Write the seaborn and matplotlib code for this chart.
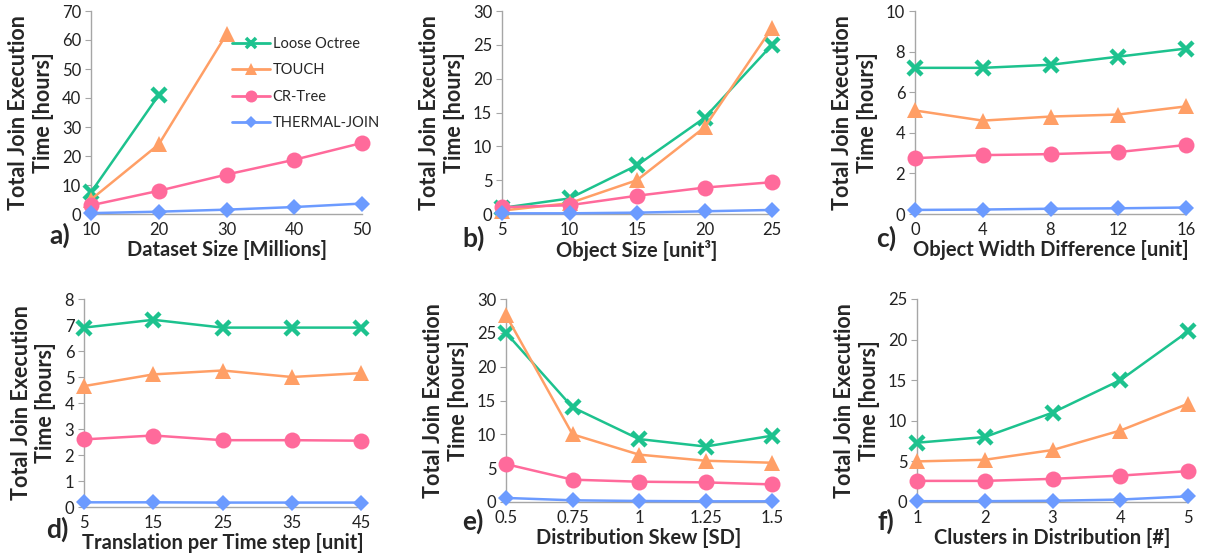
import numpy as np
import matplotlib
matplotlib.use("Agg")
import matplotlib.pyplot as plt
import seaborn as sns
from matplotlib.lines import Line2D

# ---- data ----
series_names = ["Loose Octree", "TOUCH", "CR-Tree", "THERMAL-JOIN"]

# a) Dataset Size [Millions]
a_x = [10, 20, 30, 40, 50]
a_loose = [7.5, 41, np.nan, np.nan, np.nan]
a_touch = [5, 24, 62, np.nan, np.nan]
a_crtree = [3, 8, 13.6, 18.7, 24.5]
a_thermal = [0.3, 0.8, 1.5, 2.4, 3.6]

# b) Object Size [unit^3]
b_x = [5, 10, 15, 20, 25]
b_loose = [0.9, 2.3, 7.2, 14.2, 25]
b_touch = [0.5, 1.6, 5.0, 12.8, 27.5]
b_crtree = [1.0, 1.3, 2.7, 3.9, 4.7]
b_thermal = [0.1, 0.1, 0.2, 0.4, 0.6]

# c) Object Width Difference [unit]
c_x = [0, 4, 8, 12, 16]
c_loose = [7.2, 7.2, 7.35, 7.75, 8.15]
c_touch = [5.1, 4.6, 4.8, 4.9, 5.3]
c_crtree = [2.75, 2.9, 2.95, 3.05, 3.4]
c_thermal = [0.2, 0.22, 0.26, 0.28, 0.32]

# d) Translation per Time step [unit]
d_x = [5, 15, 25, 35, 45]
d_loose = [6.9, 7.2, 6.9, 6.9, 6.9]
d_touch = [4.65, 5.1, 5.25, 5.0, 5.15]
d_crtree = [2.6, 2.75, 2.57, 2.57, 2.55]
d_thermal = [0.18, 0.18, 0.17, 0.17, 0.17]

# e) Distribution Skew [SD]
e_x = [0.5, 0.75, 1.0, 1.25, 1.5]
e_labels = ["0.5", "0.75", "1", "1.25", "1.5"]
e_loose = [25, 14, 9.3, 8.2, 9.8]
e_touch = [27.6, 10, 7.0, 6.1, 5.8]
e_crtree = [5.6, 3.3, 3.0, 2.9, 2.6]
e_thermal = [0.6, 0.25, 0.15, 0.1, 0.1]

# f) Clusters in Distribution [#]
f_x = [1, 2, 3, 4, 5]
f_loose = [7.3, 8.0, 11.0, 15.0, 21.0]
f_touch = [5.0, 5.2, 6.4, 8.8, 12.1]
f_crtree = [2.6, 2.6, 2.85, 3.25, 3.8]
f_thermal = [0.1, 0.1, 0.15, 0.3, 0.7]

# ---- styling ----
sns.set_theme(style="white")
plt.rcParams["font.family"] = ["Lato", "DejaVu Sans"]

colors = ["#1DC28E", "#FF9F66", "#FF6A9B", "#6C9BFF"]
markers = ["x", "^", "o", "D"]
msizes = [10, 11.5, 11.5, 8.5]
mews = [3.2, 0, 0, 0]
AXIS_GREY = "#A6A6A6"
W, H = 1208, 555

panels = [
    dict(x=a_x, ys=[a_loose, a_touch, a_crtree, a_thermal], ylim=70, ystep=10,
         xlabel="Dataset Size [Millions]", letter="a)", box=(91, 11, 362, 214),
         lpos=(49, 235)),
    dict(x=b_x, ys=[b_loose, b_touch, b_crtree, b_thermal], ylim=30, ystep=5,
         xlabel="Object Size [unit\u00b3]", letter="b)", box=(502, 11, 772, 214),
         lpos=(462, 238)),
    dict(x=c_x, ys=[c_loose, c_touch, c_crtree, c_thermal], ylim=10, ystep=2,
         xlabel="Object Width Difference [unit]", letter="c)", box=(915, 11, 1186, 214),
         lpos=(876, 238)),
    dict(x=d_x, ys=[d_loose, d_touch, d_crtree, d_thermal], ylim=8, ystep=1,
         xlabel="Translation per Time step [unit]", letter="d)", box=(84, 299, 361, 507),
         lpos=(46, 529)),
    dict(x=e_x, ys=[e_loose, e_touch, e_crtree, e_thermal], ylim=30, ystep=5,
         xlabel="Distribution Skew [SD]", letter="e)", box=(506, 299, 772, 502),
         lpos=(462, 521), xticklabels=e_labels),
    dict(x=f_x, ys=[f_loose, f_touch, f_crtree, f_thermal], ylim=25, ystep=5,
         xlabel="Clusters in Distribution [#]", letter="f)", box=(917, 299, 1188, 502),
         lpos=(878, 521)),
]

fig = plt.figure(figsize=(W / 100, H / 100), dpi=100)

for i, p in enumerate(panels):
    x0, y0, x1, y1 = p["box"]
    ax = fig.add_axes([x0 / W, 1 - y1 / H, (x1 - x0) / W, (y1 - y0) / H])
    for name, y, c, m, ms, mw in zip(series_names, p["ys"], colors, markers, msizes, mews):
        sns.lineplot(x=p["x"], y=y, ax=ax, color=c, marker=m, markersize=ms,
                     markeredgecolor=c, markerfacecolor=c, markeredgewidth=mw,
                     linewidth=1.8, clip_on=False, legend=False, zorder=3)

    ax.set_xlim(p["x"][0], p["x"][-1])
    ax.set_ylim(0, p["ylim"])
    ax.set_yticks(np.arange(0, p["ylim"] + 0.01, p["ystep"]))
    ax.set_xticks(p["x"])
    if "xticklabels" in p:
        ax.set_xticklabels(p["xticklabels"])
    ax.tick_params(axis="both", labelsize=12, colors="#222222", pad=3)
    ax.tick_params(axis="y", length=4, width=0.8, color=AXIS_GREY, direction="out", left=True)
    ax.tick_params(axis="x", length=0, pad=6)
    for s in ["top", "right"]:
        ax.spines[s].set_visible(False)
    for s in ["left", "bottom"]:
        ax.spines[s].set_color(AXIS_GREY)
        ax.spines[s].set_linewidth(1.0)
    ax.set_ylabel("Total Join Execution\nTime [hours]", fontsize=15.5,
                  fontweight="bold", linespacing=1.2, labelpad=6)
    ax.set_xlabel(p["xlabel"], fontsize=14.5, fontweight="bold", labelpad=1)
    fig.text(p["lpos"][0] / W, 1 - p["lpos"][1] / H, p["letter"], fontsize=19,
             fontweight="bold", ha="left", va="center")

    if i == 0:
        handles = [Line2D([], [], color=c, marker=m, markersize=ms * 0.75,
                          markeredgecolor=c, markerfacecolor=c, markeredgewidth=mw * 0.8,
                          linewidth=2)
                   for c, m, ms, mw in zip(colors, markers, msizes, mews)]
        ax.legend(handles, series_names, loc="upper left",
                  bbox_to_anchor=((226 - x0) / (x1 - x0), 1 - (31 - y0) / (y1 - y0)),
                  frameon=False, fontsize=10.5, handlelength=2.6,
                  handletextpad=0.2, labelspacing=0.85, borderaxespad=0)

fig.savefig("out.png", dpi=100)
